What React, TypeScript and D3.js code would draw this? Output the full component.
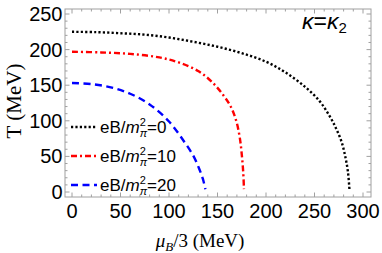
import React from 'react';
import * as d3 from 'd3';

// x: mu_B/3 (MeV), y: T (MeV)
const xTickValues = [0, 50, 100, 150, 200, 250, 300];
const yTickValues = [0, 50, 100, 150, 200, 250];

const mu0 = [0, 25, 50, 75, 100, 125, 150, 175, 200, 220, 240, 255, 265, 272, 278, 282, 284.5, 286];
const T0 = [225, 224.5, 223, 221, 217, 211, 204, 195, 183, 168, 148, 128, 108, 90, 70, 48, 28, 4];

const mu10 = [0, 30, 60, 90, 110, 130, 144, 156, 164, 169.5, 173, 175, 176.5, 177.3];
const T10 = [197, 196, 194, 189, 182, 170, 155, 136, 119, 99, 76, 53, 28, 4];

const mu20 = [0, 20, 40, 60, 80, 100, 115, 125, 131, 135, 137.5];
const T20 = [153, 151.5, 147, 138, 123, 99, 72, 51, 33, 18, 4];

const seriesLabels = ['0', '10', '20'];
const seriesColors = ['#000000', '#ff0000', '#0000ff'];
const seriesDash = ['2.2,2.2', '6,3,2,3', '7,4.5'];

export default function App() {
  const L = 65, R = 371, TOP = 9, BOT = 197;
  const x = d3.scaleLinear().domain([0, 300]).range([72, 363]);
  const y = d3.scaleLinear().domain([0, 250]).range([192, 14]);
  const xMin = x.invert(L), xMax = x.invert(R);
  const yMin = y.invert(BOT), yMax = y.invert(TOP);

  const line = d3.line<[number, number]>()
    .x(d => x(d[0]))
    .y(d => y(d[1]))
    .curve(d3.curveCatmullRom.alpha(0.5));

  const data: [number, number][][] = [
    mu0.map((m, i) => [m, T0[i]] as [number, number]),
    mu10.map((m, i) => [m, T10[i]] as [number, number]),
    mu20.map((m, i) => [m, T20[i]] as [number, number]),
  ];

  const xMinor = d3.range(0, 310, 10).filter(v => v % 50 !== 0 && v >= xMin && v <= xMax);
  const yMinor = d3.range(0, 260, 10).filter(v => v % 50 !== 0 && v >= yMin && v <= yMax);
  const frameColor = '#a0a0a0';
  const maj = 4.5, min = 2.5;

  const legendY = [127, 156, 185];
  const serif = "'Liberation Serif', 'Times New Roman', serif";

  return (
    <svg width={382} height={253} style={{ position: 'absolute', left: 0, top: 0, background: '#fff' }}
      fontFamily="'Liberation Sans', Arial, sans-serif">
      <rect x={0} y={0} width={382} height={253} fill="#fff" />
      <defs>
        <clipPath id="clip"><rect x={L} y={TOP} width={R - L} height={BOT - TOP} /></clipPath>
      </defs>
      {/* curves */}
      <g clipPath="url(#clip)">
        {data.map((d, i) => (
          <path key={i} d={line(d) || ''} fill="none" stroke={seriesColors[i]} strokeWidth={2.4}
            strokeDasharray={seriesDash[i]} />
        ))}
      </g>
      {/* frame */}
      <rect x={L} y={TOP} width={R - L} height={BOT - TOP} fill="none" stroke={frameColor} strokeWidth={1} />
      {/* ticks */}
      {xTickValues.map(v => (
        <g key={'xt' + v}>
          <line x1={x(v)} x2={x(v)} y1={BOT} y2={BOT - maj} stroke={frameColor} />
          <line x1={x(v)} x2={x(v)} y1={TOP} y2={TOP + maj} stroke={frameColor} />
          <text x={x(v)} y={217.5} textAnchor="middle" fontSize={20} fill="#000">{v}</text>
        </g>
      ))}
      {xMinor.map(v => (
        <g key={'xm' + v}>
          <line x1={x(v)} x2={x(v)} y1={BOT} y2={BOT - min} stroke={frameColor} />
          <line x1={x(v)} x2={x(v)} y1={TOP} y2={TOP + min} stroke={frameColor} />
        </g>
      ))}
      {yTickValues.map(v => (
        <g key={'yt' + v}>
          <line x1={L} x2={L + maj} y1={y(v)} y2={y(v)} stroke={frameColor} />
          <line x1={R} x2={R - maj} y1={y(v)} y2={y(v)} stroke={frameColor} />
          <text x={62.5} y={y(v) + 7} textAnchor="end" fontSize={20} fill="#000">{v}</text>
        </g>
      ))}
      {yMinor.map(v => (
        <g key={'ym' + v}>
          <line x1={L} x2={L + min} y1={y(v)} y2={y(v)} stroke={frameColor} />
          <line x1={R} x2={R - min} y1={y(v)} y2={y(v)} stroke={frameColor} />
        </g>
      ))}
      {/* legend */}
      {seriesLabels.map((lab, i) => (
        <g key={'lg' + i}>
          <line x1={71} x2={97} y1={legendY[i]} y2={legendY[i]} stroke={seriesColors[i]} strokeWidth={2.4}
            strokeDasharray={seriesDash[i]} />
          <text x={100} y={legendY[i] + 6} fontSize={17} fill="#000">
            eB/<tspan fontStyle="italic">m</tspan>
            <tspan fontSize={11} dy={-7}>2</tspan>
            <tspan fontSize={11} fontStyle="italic" dx={-6.1} dy={11}>π</tspan>
            <tspan dy={-4}>={lab}</tspan>
          </text>
        </g>
      ))}
      {/* kappa label */}
      <text x={302} y={29} fontSize={23} fill="#000">
        <tspan fontStyle="italic">κ</tspan>=<tspan fontStyle="italic">κ</tspan>
        <tspan fontSize={15} dy={4}>2</tspan>
      </text>
      {/* axis titles */}
      <text x={200} y={247} fontSize={19} fontFamily={serif} fill="#000" textAnchor="middle">
        <tspan fontStyle="italic">μ</tspan>
        <tspan fontStyle="italic" fontSize={13} dy={4}>B</tspan>
        <tspan dy={-4}>/3 (MeV)</tspan>
      </text>
      <text transform="translate(21,101) rotate(-90)" textAnchor="middle" fontSize={21}
        fontFamily={serif} fill="#000">T (MeV)</text>
    </svg>
  );
}
